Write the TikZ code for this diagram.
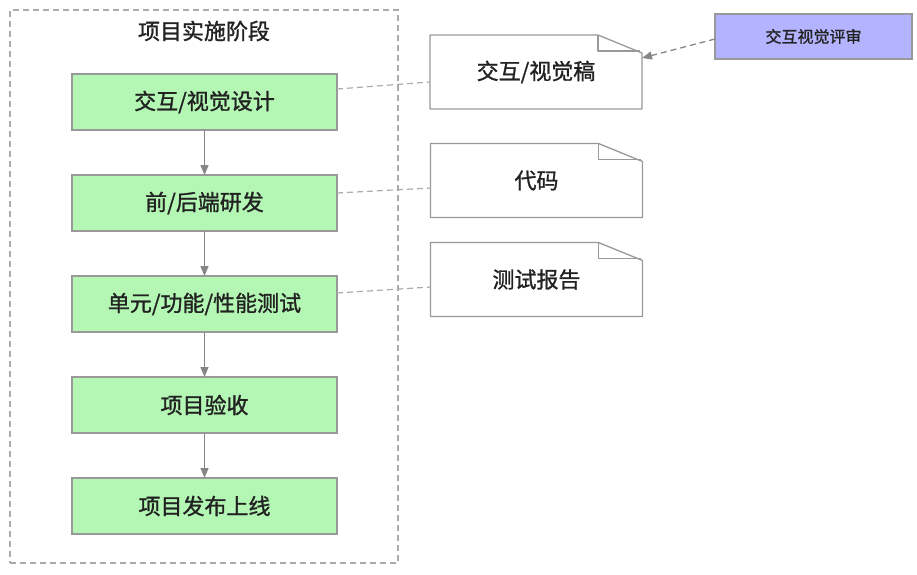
\documentclass[tikz,border=0pt]{standalone}
\usepackage{fontspec}
\setmainfont{Noto Sans CJK SC}[FakeBold=1.2]
\usetikzlibrary{arrows.meta,calc}
\definecolor{boxgreen}{HTML}{B4F7B4}
\definecolor{boxpurple}{HTML}{B3B3FF}
\definecolor{edgegray}{HTML}{999999}
\definecolor{arrowgray}{HTML}{868686}
\definecolor{dashgray}{HTML}{ABABAB}
\definecolor{txt}{HTML}{222222}
\tikzset{
  x=1pt, y=-1pt,
  every node/.style={text=txt, inner sep=0pt, outer sep=0pt},
  container/.style={draw=dashgray, line width=1.1pt, dash pattern=on 6pt off 4pt, minimum width=388pt, minimum height=553pt},
  greenbox/.style={draw=edgegray, fill=boxgreen, line width=1.3pt, minimum width=265pt, minimum height=56pt, font=\fontsize{22}{24}\selectfont},
  docnode/.style={minimum width=212pt, minimum height=74pt, font=\fontsize{22}{24}\selectfont},
  docline/.style={draw=edgegray, line width=1.3pt, line join=round},
  purplebox/.style={draw=edgegray, fill=boxpurple, line width=1.3pt, minimum width=197pt, minimum height=45pt, font=\fontsize{16}{18}\selectfont},
  flowarrow/.style={draw=arrowgray, line width=1.3pt, -{Triangle[length=10pt,width=8pt]}},
  noteline/.style={draw=dashgray, line width=1.2pt, dash pattern=on 6pt off 4pt},
  reviewarrow/.style={draw=arrowgray, line width=1.3pt, dash pattern=on 6pt off 4pt, -{Triangle[length=10pt,width=8pt]}},
  titletext/.style={font=\fontsize{22}{24}\selectfont}
}
\newcommand\docoutline[1]{%
  \draw[docline] (#1.south west) -- (#1.north west) -- ([xshift=-44pt]#1.north east)
    -- ([yshift=-18pt]#1.north east) -- (#1.south east) -- cycle;
  \draw[docline] ([xshift=-44pt]#1.north east) -- ([xshift=-44pt,yshift=-16pt]#1.north east)
    -- ([xshift=-2pt,yshift=-16pt]#1.north east);}
\begin{document}
\begin{tikzpicture}
\useasboundingbox (0,0) rectangle (917,574);
\node[container] (stage) at (204,286.5) {};
\node[titletext] (title) at (204,31) {项目实施阶段};

\node[greenbox] (b1) at (204.5,102) {交互/视觉设计};
\node[greenbox] (b2) at (204.5,203) {前/后端研发};
\node[greenbox] (b3) at (204.5,304) {单元/功能/性能测试};
\node[greenbox] (b4) at (204.5,405) {项目验收};
\node[greenbox] (b5) at (204.5,506) {项目发布上线};

\draw[flowarrow] (b1) -- (b2);
\draw[flowarrow] (b2) -- (b3);
\draw[flowarrow] (b3) -- (b4);
\draw[flowarrow] (b4) -- (b5);

\node[docnode] (d1) at (536,72) {交互/视觉稿};
\node[docnode] (d2) at (536.5,180.5) {代码};
\node[docnode] (d3) at (536.5,279.5) {测试报告};
\docoutline{d1}
\docoutline{d2}
\docoutline{d3}

\node[purplebox] (rev) at (813.5,36.5) {交互视觉评审};

\draw[noteline] ([yshift=13pt]b1.east) -- ([yshift=-10pt]d1.west);
\draw[noteline] ([yshift=10pt]b2.east) -- ([yshift=-7.5pt]d2.west);
\draw[noteline] ([yshift=11pt]b3.east) -- ([yshift=-7.5pt]d3.west);
\draw[reviewarrow] ([yshift=-2.5pt]rev.west) -- ([yshift=14pt]d1.east);
\end{tikzpicture}
\end{document}
